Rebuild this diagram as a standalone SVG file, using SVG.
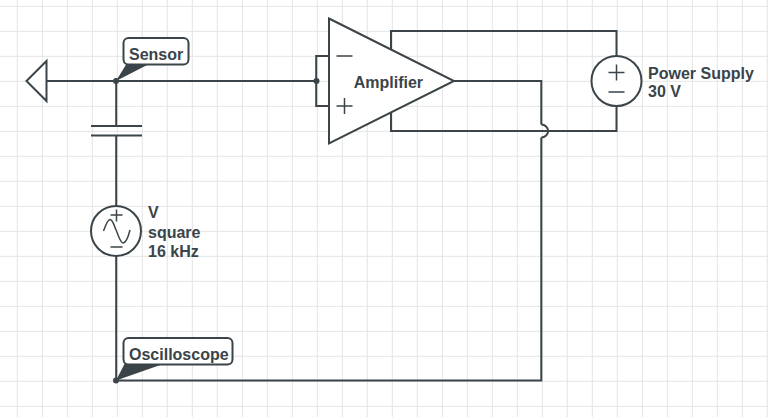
<svg xmlns="http://www.w3.org/2000/svg" width="768" height="417" viewBox="0 0 768 417" style="background:#fff">
<style>
.g{stroke:#e4e4e4;stroke-width:1;fill:none}
.w{stroke:#3a4449;stroke-width:2;fill:none}
.s{stroke:#3a4449;stroke-width:2;fill:#fff}
.t{stroke:#3a4449;stroke-width:1.500;fill:none}
.d{fill:#3a4449;stroke:none}
text{font-family:"Liberation Sans",Arial,sans-serif;font-size:16px;font-weight:bold;fill:#3a4449}
</style>
<path class="g" transform="translate(-0.2 -0.2)" d="M17.5 0V418M42.5 0V418M67.5 0V418M92.5 0V418M117.5 0V418M142.5 0V418M167.5 0V418M192.5 0V418M217.5 0V418M242.5 0V418M267.5 0V418M292.5 0V418M317.5 0V418M342.5 0V418M367.5 0V418M392.5 0V418M417.5 0V418M442.5 0V418M467.5 0V418M492.5 0V418M517.5 0V418M542.5 0V418M567.5 0V418M592.5 0V418M617.5 0V418M642.5 0V418M667.5 0V418M692.5 0V418M717.5 0V418M742.5 0V418M767.5 0V418M0 6.5H769M0 31.5H769M0 56.5H769M0 81.5H769M0 106.5H769M0 131.5H769M0 156.5H769M0 181.5H769M0 206.5H769M0 231.5H769M0 256.5H769M0 281.5H769M0 306.5H769M0 331.5H769M0 356.5H769M0 381.5H769M0 406.5H769"/>
<g id="connectors">
<path class="w" d="M46.5 81.100H316"/>
<path class="w" d="M116.200 81V126M116.200 135.500V206M116.200 256V380.500"/>
<path class="w" d="M329 56H316.200V106H329"/>
<path class="w" d="M454 81.100H541.300V124.500M541.300 137.500V380.500H116"/>
<path class="w" d="M391 52V31H616.500V56M616.500 106V131H391V110"/>
<path class="w" d="M541.300 124.500A6.800 6.500 0 0 1 541.300 137.500"/>
</g>
<g id="ground"><path class="s" d="M26.500 81L46.500 61V101Z"/></g>
<g id="capacitor"><path class="w" d="M91 126H142M91 135.500H142"/></g>
<g id="junction-sensor"><circle class="d" cx="116" cy="81" r="3"/></g>
<g id="junction-amp"><circle class="d" cx="316.500" cy="81" r="3"/></g>
<g id="sensor-label">
<path class="d" d="M116 81L127 63H151Z"/>
<rect class="s" x="123.500" y="38" width="65" height="26.500" rx="5"/>
<text x="129" y="60">Sensor</text>
</g>
<g id="amplifier">
<path class="s" d="M329 18.500L454 81L329 143.500Z"/>
<path class="t" d="M336.500 56H352.500M336.500 106H352.500M344.500 98V114"/>
<text x="353.700" y="88">Amplifier</text>
</g>
<g id="power-supply">
<circle class="s" cx="616.500" cy="81" r="25"/>
<path class="t" d="M608.500 72.500H624.500M616.500 64.500V80.500M608.500 92H624.500"/>
<text x="648" y="79">Power Supply</text>
<text x="648" y="97">30 V</text>
</g>
<g id="source">
<circle class="s" cx="116" cy="231" r="25"/>
<path class="t" d="M110.500 215H122.500M116.500 209.500V221.500M110.500 247H122.500M103.500 231C106 224 108 219.500 110 219.500C113 219.500 114 226 116.500 231C119 238 121 243 123 243C126 243 128 238 130 230"/>
<text x="148" y="218">V</text>
<text x="148" y="238">square</text>
<text x="148" y="257">16 kHz</text>
</g>
<g id="oscilloscope-label">
<path class="d" d="M116 380.500L125 363H166Z"/>
<circle class="d" cx="116" cy="380.500" r="3"/>
<rect class="s" x="123.500" y="338" width="109" height="26.500" rx="5"/>
<text x="129" y="360">Oscilloscope</text>
</g>
</svg>
